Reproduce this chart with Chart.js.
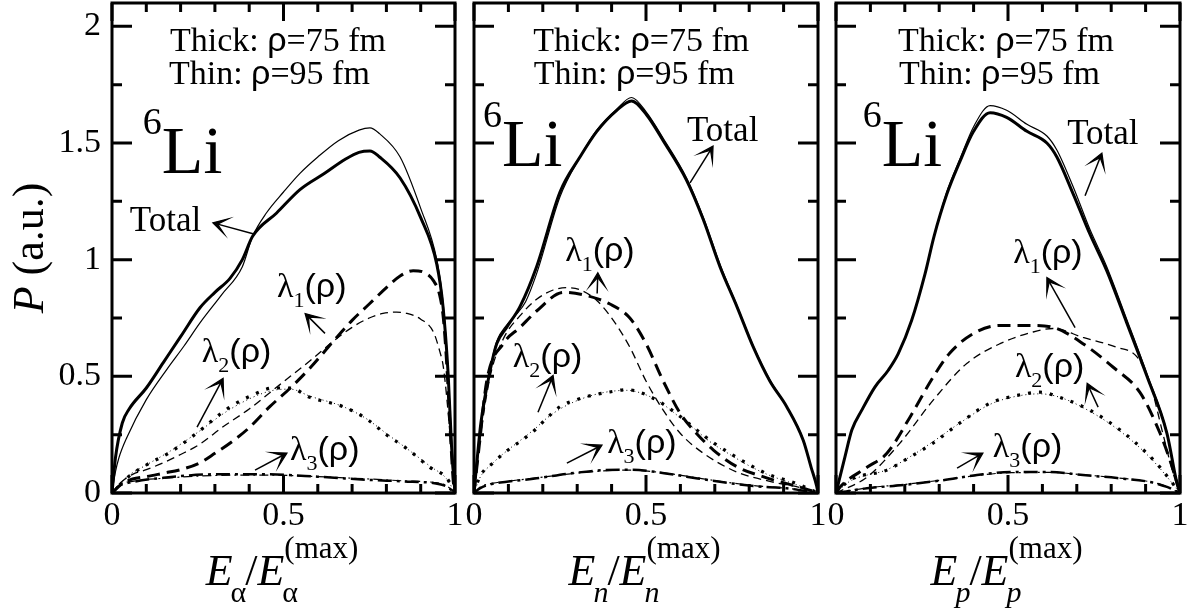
<!DOCTYPE html>
<html>
<head>
<meta charset="utf-8">
<script src="https://cdn.jsdelivr.net/npm/chart.js@4.4.1/dist/chart.umd.min.js"></script>
<style>
    html, body { margin: 0; padding: 0; background: #fff; }
    #wrap { position: relative; width: 1192px; height: 613px; }
    #wrap canvas { position: absolute; left: 0; top: 0; }
</style>
</head>
<body>
<div id="wrap">
    <canvas id="panel-alpha" width="1192" height="613"></canvas>
    <canvas id="panel-n" width="1192" height="613"></canvas>
    <canvas id="panel-p" width="1192" height="613"></canvas>
</div>
<script>
"use strict";

// tick values / labels
const xTickValues = [0, 0.1, 0.2, 0.3, 0.4, 0.5, 0.6, 0.7, 0.8, 0.9, 1];
const xTickLabels = ['0', '', '', '', '', '0.5', '', '', '', '', '1'];
const yTickValues = [0, 0.25, 0.5, 0.75, 1, 1.25, 1.5, 1.75, 2];
const yTickLabels = ['0', '', '0.5', '', '1', '', '1.5', '', '2'];

// alpha panel [x, P]
const alphaTotal75 = [[0,0],[0.01,0.15],[0.03,0.3],[0.05,0.36],[0.1,0.45],[0.15,0.56],[0.2,0.67],[0.257,0.795],[0.3,0.86],[0.344,0.92],[0.38,1.0],[0.41,1.1],[0.48,1.2],[0.548,1.3],[0.62,1.37],[0.68,1.43],[0.72,1.46],[0.752,1.466],[0.78,1.44],[0.84,1.35],[0.9,1.18],[0.947,0.98],[0.965,0.8],[0.98,0.51],[0.99,0.2],[1,0]];
const alphaTotal95 = [[0,0],[0.01,0.09],[0.02,0.15],[0.044,0.24],[0.1,0.4],[0.16,0.53],[0.21,0.63],[0.257,0.73],[0.32,0.85],[0.38,0.97],[0.41,1.1],[0.45,1.2],[0.5,1.29],[0.548,1.37],[0.6,1.44],[0.66,1.51],[0.72,1.555],[0.752,1.565],[0.78,1.54],[0.84,1.44],[0.9,1.22],[0.947,1.0],[0.965,0.82],[0.98,0.52],[0.99,0.2],[1,0]];
const alphaL1_75 = [[0,0],[0.03,0.04],[0.06,0.06],[0.1,0.07],[0.15,0.085],[0.2,0.1],[0.257,0.13],[0.3,0.17],[0.35,0.22],[0.4,0.28],[0.46,0.37],[0.52,0.45],[0.58,0.54],[0.645,0.65],[0.7,0.74],[0.75,0.81],[0.8,0.88],[0.84,0.93],[0.878,0.953],[0.91,0.945],[0.937,0.91],[0.955,0.85],[0.966,0.75],[0.976,0.55],[0.985,0.3],[0.995,0.05],[1,0]];
const alphaL1_95 = [[0,0],[0.03,0.05],[0.06,0.08],[0.1,0.1],[0.15,0.13],[0.2,0.165],[0.257,0.21],[0.32,0.28],[0.4,0.36],[0.46,0.43],[0.52,0.5],[0.58,0.57],[0.645,0.65],[0.7,0.71],[0.75,0.75],[0.79,0.77],[0.83,0.775],[0.86,0.77],[0.9,0.745],[0.937,0.69],[0.955,0.61],[0.966,0.54],[0.985,0.26],[0.995,0.06],[1,0]];
const alphaL2_75 = [[0,0],[0.044,0.065],[0.1,0.12],[0.17,0.175],[0.25,0.26],[0.335,0.36],[0.41,0.42],[0.47,0.45],[0.52,0.45],[0.577,0.41],[0.674,0.37],[0.74,0.32],[0.8,0.25],[0.86,0.19],[0.927,0.11],[0.976,0.064],[1,0]];
const alphaL2_95 = [[0,0],[0.044,0.07],[0.1,0.12],[0.17,0.18],[0.25,0.26],[0.335,0.35],[0.41,0.41],[0.47,0.44],[0.52,0.445],[0.577,0.415],[0.674,0.37],[0.74,0.32],[0.8,0.255],[0.86,0.19],[0.927,0.115],[0.976,0.06],[1,0]];
const alphaL3_75 = [[0,0],[0.02,0.03],[0.06,0.047],[0.15,0.065],[0.3,0.08],[0.45,0.08],[0.6,0.07],[0.75,0.056],[0.85,0.05],[0.94,0.042],[0.97,0.032],[0.99,0.012],[1,0]];
const alphaL3_95 = [[0,0],[0.02,0.035],[0.06,0.05],[0.15,0.063],[0.3,0.075],[0.45,0.077],[0.6,0.07],[0.75,0.06],[0.85,0.052],[0.94,0.045],[0.97,0.035],[0.99,0.015],[1,0]];

// neutron panel
const nTotal75 = [[0,0],[0.008,0.127],[0.02,0.3],[0.047,0.526],[0.066,0.64],[0.095,0.71],[0.134,0.8],[0.182,0.97],[0.25,1.29],[0.308,1.44],[0.357,1.55],[0.415,1.64],[0.458,1.68],[0.502,1.62],[0.55,1.51],[0.618,1.34],[0.667,1.17],[0.715,0.97],[0.764,0.8],[0.812,0.625],[0.86,0.48],[0.909,0.37],[0.957,0.226],[0.98,0.11],[0.996,0.03],[1,0]];
const nTotal95 = [[0,0],[0.008,0.11],[0.02,0.28],[0.047,0.53],[0.066,0.65],[0.095,0.72],[0.12,0.76],[0.15,0.82],[0.182,0.94],[0.25,1.27],[0.308,1.44],[0.357,1.555],[0.415,1.645],[0.458,1.695],[0.502,1.63],[0.55,1.52],[0.618,1.35],[0.667,1.18],[0.715,0.98],[0.764,0.805],[0.812,0.63],[0.86,0.485],[0.909,0.37],[0.957,0.23],[0.98,0.11],[0.996,0.03],[1,0]];
const nL1_75 = [[0,0],[0.015,0.2],[0.037,0.48],[0.085,0.64],[0.134,0.71],[0.182,0.78],[0.26,0.86],[0.328,0.846],[0.395,0.81],[0.453,0.75],[0.5,0.64],[0.55,0.48],[0.6,0.34],[0.647,0.255],[0.696,0.184],[0.764,0.113],[0.84,0.07],[0.909,0.04],[0.96,0.02],[1,0]];
const nL1_95 = [[0,0],[0.015,0.2],[0.047,0.5],[0.085,0.66],[0.134,0.76],[0.182,0.83],[0.23,0.87],[0.27,0.88],[0.31,0.87],[0.357,0.825],[0.405,0.74],[0.453,0.625],[0.5,0.48],[0.55,0.355],[0.6,0.255],[0.667,0.17],[0.764,0.09],[0.86,0.05],[0.957,0.02],[1,0]];
const nL2_75 = [[0,0],[0.017,0.07],[0.056,0.13],[0.095,0.18],[0.143,0.23],[0.177,0.27],[0.211,0.32],[0.25,0.37],[0.298,0.4],[0.347,0.42],[0.395,0.433],[0.444,0.443],[0.492,0.426],[0.54,0.39],[0.589,0.34],[0.637,0.283],[0.686,0.226],[0.744,0.17],[0.802,0.12],[0.86,0.077],[0.909,0.055],[0.948,0.034],[1,0]];
const nL2_95 = [[0,0],[0.017,0.065],[0.056,0.13],[0.095,0.18],[0.143,0.235],[0.177,0.275],[0.211,0.32],[0.25,0.36],[0.298,0.395],[0.347,0.42],[0.395,0.435],[0.444,0.44],[0.492,0.425],[0.54,0.39],[0.589,0.335],[0.637,0.28],[0.686,0.22],[0.744,0.165],[0.802,0.115],[0.86,0.075],[0.909,0.05],[0.948,0.03],[1,0]];
const nL3_75 = [[0,0],[0.017,0.02],[0.056,0.04],[0.095,0.048],[0.182,0.063],[0.28,0.084],[0.376,0.098],[0.453,0.1],[0.53,0.09],[0.618,0.07],[0.715,0.048],[0.812,0.03],[0.909,0.02],[0.96,0.01],[1,0]];
const nL3_95 = [[0,0],[0.017,0.025],[0.056,0.042],[0.095,0.05],[0.182,0.065],[0.28,0.082],[0.376,0.095],[0.453,0.098],[0.53,0.09],[0.618,0.072],[0.715,0.05],[0.812,0.032],[0.909,0.02],[0.96,0.01],[1,0]];

// proton panel
const pTotal75 = [[0,0],[0.026,0.155],[0.046,0.27],[0.075,0.355],[0.113,0.454],[0.152,0.526],[0.181,0.597],[0.22,0.74],[0.259,0.94],[0.285,1.1],[0.322,1.28],[0.36,1.42],[0.4,1.55],[0.448,1.63],[0.496,1.61],[0.555,1.55],[0.613,1.5],[0.642,1.44],[0.69,1.28],[0.738,1.11],[0.787,0.953],[0.845,0.73],[0.904,0.5],[0.962,0.256],[0.99,0.05],[1,0]];
const pTotal95 = [[0,0],[0.026,0.155],[0.046,0.27],[0.075,0.355],[0.113,0.454],[0.152,0.526],[0.181,0.597],[0.22,0.74],[0.259,0.94],[0.285,1.1],[0.322,1.29],[0.36,1.43],[0.4,1.57],[0.448,1.66],[0.496,1.64],[0.555,1.58],[0.613,1.53],[0.642,1.47],[0.69,1.31],[0.738,1.13],[0.787,0.97],[0.845,0.745],[0.904,0.51],[0.962,0.26],[0.99,0.05],[1,0]];
const pL1_75 = [[0,0],[0.012,0.026],[0.09,0.11],[0.148,0.17],[0.215,0.325],[0.282,0.496],[0.331,0.6],[0.4,0.684],[0.477,0.718],[0.573,0.718],[0.642,0.705],[0.718,0.64],[0.805,0.54],[0.884,0.43],[0.942,0.256],[0.971,0.14],[1,0]];
const pL1_95 = [[0,0],[0.09,0.068],[0.186,0.214],[0.282,0.397],[0.38,0.555],[0.477,0.64],[0.573,0.69],[0.631,0.705],[0.718,0.667],[0.817,0.624],[0.875,0.583],[0.913,0.47],[0.95,0.256],[0.98,0.085],[1,0]];
const pL2_75 = [[0,0],[0.04,0.055],[0.148,0.098],[0.215,0.154],[0.282,0.214],[0.36,0.3],[0.448,0.385],[0.526,0.418],[0.593,0.432],[0.651,0.41],[0.738,0.355],[0.826,0.27],[0.904,0.17],[0.942,0.11],[1,0]];
const pL2_95 = [[0,0],[0.04,0.05],[0.148,0.1],[0.215,0.155],[0.282,0.22],[0.36,0.3],[0.448,0.38],[0.526,0.415],[0.593,0.425],[0.651,0.41],[0.738,0.35],[0.826,0.265],[0.904,0.165],[0.942,0.105],[1,0]];
const pL3_75 = [[0,0],[0.09,0.02],[0.2,0.035],[0.311,0.055],[0.41,0.077],[0.506,0.09],[0.622,0.09],[0.718,0.077],[0.817,0.064],[0.913,0.047],[0.962,0.026],[1,0]];
const pL3_95 = [[0,0],[0.09,0.022],[0.2,0.037],[0.311,0.056],[0.41,0.075],[0.506,0.087],[0.622,0.088],[0.718,0.078],[0.817,0.065],[0.913,0.048],[0.962,0.028],[1,0]];

// annotation anchors in data units: [x, y] ; arrows: [tailX, tailY, headX, headY]
const alphaNotes = {thick: [0.169, 1.893], thin: [0.166, 1.752], li: [0.09, 1.372],
    total: [0.052, 1.124], l1: [0.481, 0.838], l2: [0.262, 0.56], l3: [0.519, 0.141]};
const alphaArrows = [[0.411, 1.111, 0.294, 1.158], [0.621, 0.684, 0.563, 0.769], [0.248, 0.282, 0.324, 0.491], [0.417, 0.098, 0.51, 0.171]];
const nNotes = {thick: [0.172, 1.893], thin: [0.174, 1.752], li: [0.026, 1.402],
    total: [0.619, 1.508], l1: [0.265, 0.996], l2: [0.113, 0.538], l3: [0.387, 0.171]};
const nArrows = [[0.628, 1.329, 0.695, 1.487], [0.358, 0.855, 0.36, 0.944], [0.186, 0.346, 0.23, 0.504], [0.27, 0.128, 0.372, 0.205]];
const pNotes = {thick: [0.18, 1.893], thin: [0.183, 1.752], li: [0.078, 1.402],
    total: [0.672, 1.496], l1: [0.515, 0.985], l2: [0.52, 0.496], l3: [0.456, 0.154]};
const pArrows = [[0.724, 1.274, 0.773, 1.457], [0.695, 0.709, 0.613, 0.923], [0.762, 0.368, 0.73, 0.47], [0.352, 0.107, 0.427, 0.171]];

const SERIF = '"Liberation Serif", "Times New Roman", serif';
const SANS = '"Liberation Sans", Arial, sans-serif';

// line styles: thick = rho 75 fm, thin = rho 95 fm
const lineStyles = [
    {width: 3, dash: []},
    {width: 1.2, dash: []},
    {width: 3, dash: [13, 7]},
    {width: 1.3, dash: [8, 5]},
    {width: 3.2, dash: [3, 8]},
    {width: 1, dash: [1, 3]},
    {width: 2.5, dash: [14, 5, 3, 5]},
    {width: 1.2, dash: [9, 4, 2, 4]}
];

const panels = [
    {id: 'panel-alpha', left: 112, right: 455, yLabels: true, sub: 'α', subItalic: false,
        series: [alphaTotal75, alphaTotal95, alphaL1_75, alphaL1_95, alphaL2_75, alphaL2_95, alphaL3_75, alphaL3_95],
        notes: alphaNotes, arrows: alphaArrows},
    {id: 'panel-n', left: 474, right: 818, yLabels: false, sub: 'n', subItalic: true,
        series: [nTotal75, nTotal95, nL1_75, nL1_95, nL2_75, nL2_95, nL3_75, nL3_95],
        notes: nNotes, arrows: nArrows},
    {id: 'panel-p', left: 836, right: 1180, yLabels: false, sub: 'p', subItalic: true,
        series: [pTotal75, pTotal95, pL1_75, pL1_95, pL2_75, pL2_95, pL3_75, pL3_95],
        notes: pNotes, arrows: pArrows}
];

const TOP = 3, BOTTOM = 493;
const Y_AXIS_W = 90, X_AXIS_H = 50;

function drawRuns(ctx, x, y, runs) {
    let cx = x;
    runs.forEach(r => {
        ctx.font = r.f;
        ctx.fillText(r.t, cx, y + (r.dy || 0));
        cx += ctx.measureText(r.t).width;
    });
}

function runsWidth(ctx, runs) {
    return runs.reduce((w, r) => { ctx.font = r.f; return w + ctx.measureText(r.t).width; }, 0);
}

function drawArrow(ctx, x1, y1, x2, y2) {
    const ang = Math.atan2(y2 - y1, x2 - x1);
    const c = Math.cos(ang), s = Math.sin(ang);
    const L = 14, W = 8;
    ctx.lineWidth = 1.5;
    ctx.beginPath();
    ctx.moveTo(x1, y1);
    ctx.lineTo(x2 - c * 4, y2 - s * 4);
    ctx.stroke();
    // barbed head
    ctx.beginPath();
    ctx.moveTo(x2, y2);
    ctx.lineTo(x2 - L * c - W * s, y2 - L * s + W * c);
    ctx.lineTo(x2 - 0.35 * L * c, y2 - 0.35 * L * s);
    ctx.lineTo(x2 - L * c + W * s, y2 - L * s - W * c);
    ctx.closePath();
    ctx.fill();
    ctx.lineWidth = 1.2;
    ctx.stroke();
}

function lambdaRuns(idx) {
    return [
        {t: 'λ', f: `34px ${SERIF}`},
        {t: idx, f: `22px ${SERIF}`, dy: 10},
        {t: '(ρ)', f: `34px ${SANS}`}
    ];
}

const framePlugin = {
    id: 'frame',
    afterDraw(chart, args, opts) {
        const p = opts.panel;
        const {ctx, chartArea: a, scales: {x, y}} = chart;
        const px = v => x.getPixelForValue(v);
        const py = v => y.getPixelForValue(v);
        ctx.save();
        ctx.strokeStyle = '#000';
        ctx.fillStyle = '#000';
        ctx.lineCap = 'butt';
        ctx.setLineDash([]);

        // inward ticks on all four sides
        ctx.lineWidth = 3;
        ctx.beginPath();
        x.ticks.forEach((t, i) => {
            const len = xTickLabels[i] ? 18 : 9;
            const X = px(t.value);
            ctx.moveTo(X, a.bottom); ctx.lineTo(X, a.bottom - len);
            ctx.moveTo(X, a.top); ctx.lineTo(X, a.top + len);
        });
        y.ticks.forEach((t, i) => {
            const len = yTickLabels[i] ? 20 : 10;
            const Y = py(t.value);
            ctx.moveTo(a.left, Y); ctx.lineTo(a.left + len, Y);
            ctx.moveTo(a.right, Y); ctx.lineTo(a.right - len, Y);
        });
        ctx.stroke();
        ctx.strokeRect(a.left, a.top, a.right - a.left, a.bottom - a.top);

        // texts
        const n = p.notes;
        ctx.textBaseline = 'alphabetic';
        ctx.textAlign = 'left';
        drawRuns(ctx, px(n.thick[0]), py(n.thick[1]), [
            {t: 'Thick: ', f: `34px ${SERIF}`}, {t: 'ρ', f: `34px ${SANS}`}, {t: '=75 fm', f: `34px ${SERIF}`}]);
        drawRuns(ctx, px(n.thin[0]), py(n.thin[1]), [
            {t: 'Thin: ', f: `34px ${SERIF}`}, {t: 'ρ', f: `34px ${SANS}`}, {t: '=95 fm', f: `34px ${SERIF}`}]);
        drawRuns(ctx, px(n.li[0]), py(n.li[1]), [
            {t: '6', f: `38px ${SERIF}`, dy: -39}, {t: 'Li', f: `68px ${SERIF}`}]);
        drawRuns(ctx, px(n.total[0]), py(n.total[1]), [{t: 'Total', f: `35px ${SERIF}`}]);
        drawRuns(ctx, px(n.l1[0]), py(n.l1[1]), lambdaRuns('1'));
        drawRuns(ctx, px(n.l2[0]), py(n.l2[1]), lambdaRuns('2'));
        drawRuns(ctx, px(n.l3[0]), py(n.l3[1]), lambdaRuns('3'));

        p.arrows.forEach(ar => drawArrow(ctx, px(ar[0]), py(ar[1]), px(ar[2]), py(ar[3])));

        // x axis title E_s / E_s^(max)
        const eFont = `italic 44px ${SERIF}`;
        const subFont = `${p.subItalic ? 'italic ' : ''}30px ${SERIF}`;
        const supFont = `31px ${SERIF}`;
        ctx.font = eFont; const wE = ctx.measureText('E').width;
        ctx.font = subFont; const wS = ctx.measureText(p.sub).width;
        ctx.font = `44px ${SERIF}`; const wSl = ctx.measureText('/').width;
        ctx.font = supFont; const wM = ctx.measureText('(max)').width;
        const total = wE + wS + wSl + wE + Math.max(wS, wM);
        let cx = (a.left + a.right) / 2 - total / 2;
        const base = 585;
        ctx.font = eFont; ctx.fillText('E', cx, base); cx += wE;
        ctx.font = subFont; ctx.fillText(p.sub, cx - 2, base + 17); cx += wS;
        ctx.font = `44px ${SERIF}`; ctx.fillText('/', cx - 3, base); cx += wSl - 3;
        ctx.font = eFont; ctx.fillText('E', cx, base); cx += wE;
        ctx.font = subFont; ctx.fillText(p.sub, cx - 2, base + 17);
        ctx.font = supFont; ctx.fillText('(max)', cx, base - 27);

        // y axis title
        if (p.yLabels) {
            const runs = [{t: 'P', f: `italic 44px ${SERIF}`}, {t: ' (a.u.)', f: `44px ${SERIF}`}];
            const w = runsWidth(ctx, runs);
            ctx.translate(43, 248);
            ctx.rotate(-Math.PI / 2);
            drawRuns(ctx, -w / 2, 0, runs);
        }
        ctx.restore();
    }
};

panels.forEach(p => {
    const ctx = document.getElementById(p.id).getContext('2d');
    const datasets = p.series.map((pts, i) => ({
        data: pts.map(d => ({x: d[0], y: d[1]})),
        borderColor: '#000',
        borderWidth: lineStyles[i].width,
        borderDash: lineStyles[i].dash,
        borderCapStyle: 'butt',
        pointRadius: 0,
        fill: false,
        cubicInterpolationMode: 'monotone'
    }));

    // fixed axis boxes so the plot frame lands on the same pixels as the reference
    const fitFixed = (s) => {
        if (s.isHorizontal()) s.height = X_AXIS_H; else s.width = Y_AXIS_W;
        s.paddingTop = s.paddingBottom = s.paddingLeft = s.paddingRight = 0;
    };

    new Chart(ctx, {
        type: 'line',
        data: {datasets},
        options: {
            responsive: false,
            animation: false,
            devicePixelRatio: 1,
            layout: {padding: {left: p.left - Y_AXIS_W, right: 1192 - p.right, top: TOP, bottom: 613 - BOTTOM - X_AXIS_H}},
            plugins: {
                legend: {display: false},
                tooltip: {enabled: false},
                frame: {panel: p}
            },
            scales: {
                x: {
                    type: 'linear', min: 0, max: 1,
                    grid: {display: false, drawTicks: false},
                    border: {display: false},
                    afterBuildTicks: s => { s.ticks = xTickValues.map(v => ({value: v})); },
                    afterFit: fitFixed,
                    ticks: {
                        autoSkip: false, maxRotation: 0, padding: 6, color: '#000',
                        font: {family: SERIF, size: 34, lineHeight: 1},
                        callback: (v, i) => xTickLabels[i]
                    }
                },
                y: {
                    type: 'linear', min: 0, max: 2.1,
                    grid: {display: false, drawTicks: false},
                    border: {display: false},
                    afterBuildTicks: s => { s.ticks = yTickValues.map(v => ({value: v})); },
                    afterFit: fitFixed,
                    ticks: {
                        autoSkip: false, padding: 11, color: '#000',
                        font: {family: SERIF, size: 34, lineHeight: 1},
                        callback: (v, i) => p.yLabels ? yTickLabels[i] : ''
                    }
                }
            }
        },
        plugins: [framePlugin]
    });
});
</script>
</body>
</html>
